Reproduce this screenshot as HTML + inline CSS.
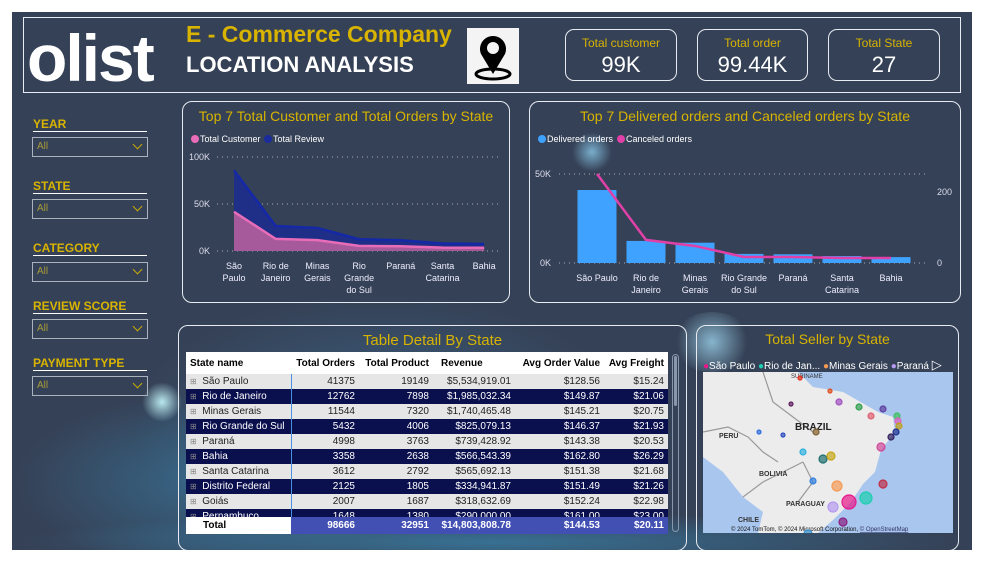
<!DOCTYPE html>
<html><head><meta charset="utf-8">
<style>
*{margin:0;padding:0;box-sizing:border-box}
body{width:984px;height:562px;background:#fff;font-family:"Liberation Sans",sans-serif;position:relative;overflow:hidden}
#dash{position:absolute;left:12px;top:12px;width:960px;height:538px;background:#354156;overflow:hidden}
.glow{position:absolute;border-radius:50%;pointer-events:none}
.abs{position:absolute}
.panel{position:absolute;border:1.5px solid #e8ecf2;border-radius:10px}
.gold{color:#d8b400}
.kpi{position:absolute;top:17px;height:52px;border:1.5px solid #e8ecf2;border-radius:9px;text-align:center}
.kpi .l{color:#d8b400;font-size:12px;margin-top:6px}
.kpi .v{color:#fff;font-size:22px;margin-top:2px}
.sl-l{position:absolute;left:21px;width:114px;color:#d8b400;font-weight:bold;font-size:12px;border-bottom:1.5px solid #fff;height:14px;line-height:12px}
.sl-b{position:absolute;left:20px;width:116px;height:20px;border:1.5px solid #aab2be;color:#a89a3a;font-size:10px;padding:3px 0 0 4px}
.sl-b:after{content:"";position:absolute;right:6px;top:3px;width:6px;height:6px;border-right:1.2px solid #c8a800;border-bottom:1.2px solid #c8a800;transform:rotate(45deg)}
table{border-collapse:collapse;font-size:10px;table-layout:fixed}
td,th{padding:0 4px;height:15px;white-space:nowrap;overflow:hidden}
</style></head><body>
<div id="dash">
<div class="glow" style="left:120px;top:280px;width:500px;height:260px;background:radial-gradient(ellipse,rgba(70,150,200,0.35),rgba(53,65,86,0) 70%)"></div>
<div class="glow" style="left:0px;top:380px;width:400px;height:180px;background:radial-gradient(ellipse,rgba(60,160,210,0.4),rgba(53,65,86,0) 70%)"></div>
<div class="glow" style="left:130px;top:370px;width:40px;height:40px;background:radial-gradient(circle,rgba(200,250,255,0.9),rgba(80,180,230,0) 70%)"></div>
<div class="glow" style="left:560px;top:120px;width:40px;height:40px;background:radial-gradient(circle,rgba(150,220,255,0.7),rgba(80,180,230,0) 70%)"></div>
<div class="glow" style="left:660px;top:300px;width:80px;height:60px;background:radial-gradient(circle,rgba(170,230,255,0.7),rgba(80,180,230,0) 70%)"></div>
<div class="glow" style="left:0px;top:500px;width:960px;height:60px;background:radial-gradient(ellipse,rgba(60,170,220,0.45),rgba(53,65,86,0) 70%)"></div>

<div class="abs" style="left:11px;top:5px;width:938px;height:76px;border:1.5px solid #e8ecf2"></div>
<div class="abs" style="left:15px;top:9px;color:#fff;font-weight:bold;font-size:66px;letter-spacing:-2px;line-height:74px">olist</div>
<div class="abs gold" style="left:174px;top:9px;font-weight:bold;font-size:23px">E - Commerce Company</div>
<div class="abs" style="left:174px;top:40px;color:#fff;font-weight:bold;font-size:22px">LOCATION ANALYSIS</div>
<div class="abs" style="left:455px;top:16px;width:52px;height:56px;background:#f4f4f4">
<svg width="52" height="56" viewBox="0 0 52 56"><ellipse cx="26" cy="46" rx="17" ry="5" fill="none" stroke="#000" stroke-width="3"/><path d="M26 46 L14 26 A13 13 0 1 1 38 26 Z" fill="#000"/><circle cx="26" cy="20" r="6" fill="#f4f4f4"/></svg></div>

<div class="kpi" style="left:553px;width:112px"><div class="l">Total customer</div><div class="v">99K</div></div>
<div class="kpi" style="left:685px;width:111px"><div class="l">Total order</div><div class="v">99.44K</div></div>
<div class="kpi" style="left:816px;width:112px"><div class="l">Total State</div><div class="v">27</div></div>

<div class="sl-l" style="top:106px">YEAR</div>
<div class="sl-b" style="top:125px">All</div>
<div class="sl-l" style="top:168px">STATE</div>
<div class="sl-b" style="top:187px">All</div>
<div class="sl-l" style="top:230px">CATEGORY</div>
<div class="sl-b" style="top:250px">All</div>
<div class="sl-l" style="top:288px">REVIEW SCORE</div>
<div class="sl-b" style="top:307px">All</div>
<div class="sl-l" style="top:345px">PAYMENT TYPE</div>
<div class="sl-b" style="top:364px">All</div>

<div class="panel" style="left:170px;top:89px;width:328px;height:202px"></div>
<svg class="abs" id="c1" style="left:170px;top:89px" width="328" height="202"></svg>
<div class="panel" style="left:517px;top:89px;width:432px;height:202px"></div>
<svg class="abs" id="c2" style="left:517px;top:89px" width="432" height="202"></svg>

<div class="panel" style="left:166px;top:313px;width:509px;height:226px"></div>
<div class="abs gold" style="left:166px;top:320px;width:509px;text-align:center;font-size:15px">Table Detail By State</div>
<div class="abs" style="left:174px;top:340px;width:482px;height:182px;background:#0a0f4e;overflow:hidden">
<table style="width:482px">
<colgroup><col style="width:105px"><col style="width:68px"><col style="width:74px"><col style="width:82px"><col style="width:89px"><col style="width:64px"></colgroup>
<tr style="background:#fff;color:#000;height:22px"><th style="text-align:left;height:22px">State name</th><th style="text-align:right">Total Orders</th><th style="text-align:right">Total Product</th><th style="text-align:left;padding-left:8px">Revenue</th><th style="text-align:right">Avg Order Value</th><th style="text-align:right">Avg Freight</th></tr>
<tbody id="tb"></tbody>
</table>
<div class="abs" style="left:0;top:165px;width:482px;height:17px;background:#4250b4;color:#fff;font-size:10px;font-weight:bold">
<div class="abs" style="left:0;top:0;width:105px;height:17px;background:#fff;color:#000;padding:3px 0 0 17px">Total</div>
<div class="abs" style="right:313px;top:3px">98666</div><div class="abs" style="right:239px;top:3px">32951</div><div class="abs" style="right:157px;top:3px">$14,803,808.78</div><div class="abs" style="right:68px;top:3px">$144.53</div><div class="abs" style="right:4px;top:3px">$20.11</div></div>
</div>
<div class="abs" style="left:660px;top:342px;width:7px;height:178px;border:1px solid #8898aa;border-radius:4px"><div style="margin:1px;height:50px;background:#8898aa;border-radius:3px"></div></div>

<div class="panel" style="left:684px;top:313px;width:263px;height:226px"></div>
<div class="abs gold" style="left:684px;top:319px;width:263px;text-align:center;font-size:14px">Total Seller by State</div>
<div class="abs" style="left:691px;top:345px;font-size:10px;color:#fff;white-space:nowrap">
<span style="color:#e8188a">●</span>São Paulo <span style="color:#1ccfb0">●</span>Rio de Jan... <span style="color:#f59a55">●</span>Minas Gerais <span style="color:#b59af0">●</span>Paraná <span style="font-size:13px">&#9655;</span></div>
<svg class="abs" id="map" style="left:691px;top:360px" width="250" height="161">
<rect width="250" height="161" fill="#a9c6ee"/>
<path d="M0 0 H95 L110 15 L140 20 L175 40 L190 45 L192 60 L178 78 L172 100 L160 112 L148 130 L130 148 L115 161 H55 L60 140 L40 125 L20 100 L0 85 Z" fill="#ececec"/>
<path d="M0 60 L25 55 L45 65 L60 80 L75 90 M60 0 L70 30 L90 45 L110 60 M100 90 L110 110 L95 130 M40 125 L60 110 L100 90" fill="none" stroke="#999" stroke-width="1.2"/>
<text x="92" y="58" font-size="10" font-weight="bold" fill="#222">BRAZIL</text>
<text x="16" y="66" font-size="7" font-weight="bold" fill="#333">PERU</text>
<text x="56" y="104" font-size="7" font-weight="bold" fill="#333">BOLIVIA</text>
<text x="83" y="134" font-size="7" font-weight="bold" fill="#333">PARAGUAY</text>
<text x="35" y="150" font-size="7" font-weight="bold" fill="#333">CHILE</text>
<text x="88" y="6" font-size="6" fill="#333">SURINAME</text>
<text x="28" y="159" font-size="6" fill="#111">© 2024 TomTom, © 2024 Microsoft Corporation, <tspan fill="#336" text-decoration="underline">© OpenStreetMap</tspan></text>
<g id="dots"></g>
</svg>
</div>
<script>
const states=["São Paulo","Rio de Janeiro","Minas Gerais","Rio Grande do Sul","Paraná","Santa Catarina","Bahia"];
const xLabels=[["São","Paulo"],["Rio de","Janeiro"],["Minas","Gerais"],["Rio","Grande","do Sul"],["Paraná"],["Santa","Catarina"],["Bahia"]];
const totalCustomer=[41.7,12.9,11.6,5.5,5.0,3.6,3.4];
const totalReview=[44,13.7,12.9,7,6.5,4.4,4.1];
const y1Ticks=[0,50,100];
const delivered=[41,12.4,11.4,5.1,4.9,3.9,3.3];
const canceled=[251,65,48,17,17,14,14];
const y2Ticks=[0,50];
const y2rTicks=[0,200];
const NS="http://www.w3.org/2000/svg";
function mk(p,t,a,txt){const e=document.createElementNS(NS,t);for(const k in a)e.setAttribute(k,a[k]);if(txt!=null)e.textContent=txt;p.appendChild(e);return e;}
// chart1
const c1=document.getElementById('c1');
let t1=mk(c1,'text',{x:164,y:20,'text-anchor':'middle','font-size':14,fill:'#d8b400'},'Top 7 Total Customer and Total Orders by State');


mk(c1,'circle',{cx:13,cy:38,r:4,fill:'#e86cb8'});mk(c1,'text',{x:18,y:41,'font-size':9,fill:'#fff'},'Total Customer');
mk(c1,'circle',{cx:86,cy:38,r:4,fill:'#1a2c9c'});mk(c1,'text',{x:91,y:41,'font-size':9,fill:'#fff'},'Total Review');
const x1=i=>52+i*41.7, y1=v=>150-v*0.94;
y1Ticks.forEach(v=>{mk(c1,'line',{x1:35,x2:320,y1:y1(v),y2:y1(v),stroke:'#aab','stroke-dasharray':'1 4'});
 mk(c1,'text',{x:28,y:y1(v)+3,'text-anchor':'end','font-size':9,fill:'#dde'},v+'K');});
const stackTop=totalCustomer.map((v,i)=>v+totalReview[i]);
let pb='M'+x1(0)+' '+y1(0)+states.map((s,i)=>' L'+x1(i)+' '+y1(stackTop[i])).join('')+' L'+x1(6)+' '+y1(0)+'Z';
let ea=mk(c1,'path',{d:pb,fill:'#1f2e8a',opacity:0.95});


mk(c1,'polyline',{points:states.map((s,i)=>x1(i)+','+y1(stackTop[i])).join(' '),fill:'none',stroke:'#1428a8','stroke-width':2.5});
let pc='M'+x1(0)+' '+y1(0)+states.map((s,i)=>' L'+x1(i)+' '+y1(totalCustomer[i])).join('')+' L'+x1(6)+' '+y1(0)+'Z';
let eb=mk(c1,'path',{d:pc,fill:'#a65a9c'});


mk(c1,'polyline',{points:states.map((s,i)=>x1(i)+','+y1(totalCustomer[i])).join(' '),fill:'none',stroke:'#e86cb8','stroke-width':2.5});
xLabels.forEach((l,i)=>l.forEach((w,j)=>mk(c1,'text',{x:x1(i),y:168+j*12,'text-anchor':'middle','font-size':9,fill:'#eef'},w)));
// chart2
const c2=document.getElementById('c2');
let t2=mk(c2,'text',{x:216,y:20,'text-anchor':'middle','font-size':14,fill:'#d8b400'},'Top 7 Delivered orders and Canceled orders by State');


mk(c2,'circle',{cx:13,cy:38,r:4,fill:'#3fa2ff'});mk(c2,'text',{x:18,y:41,'font-size':9,fill:'#fff'},'Delivered orders');
mk(c2,'circle',{cx:92,cy:38,r:4,fill:'#e040a8'});mk(c2,'text',{x:97,y:41,'font-size':9,fill:'#fff'},'Canceled orders');
const x2=i=>68+i*49, y2=v=>162-v*1.78, y2r=v=>162-v*0.355;
y2Ticks.forEach(v=>{mk(c2,'line',{x1:30,x2:400,y1:y2(v),y2:y2(v),stroke:'#aab','stroke-dasharray':'1 4'});
 mk(c2,'text',{x:22,y:y2(v)+3,'text-anchor':'end','font-size':9,fill:'#dde'},v+'K');});
y2rTicks.forEach(v=>mk(c2,'text',{x:408,y:y2r(v)+3,'font-size':9,fill:'#dde'},v));
delivered.forEach((v,i)=>{const r=mk(c2,'rect',{x:x2(i)-19.5,y:y2(v),width:39,height:y2(0)-y2(v),fill:'#3fa2ff'});
 
 });
let ec=mk(c2,'polyline',{points:canceled.map((v,i)=>x2(i)+','+y2r(v)).join(' '),fill:'none',stroke:'#e040a8','stroke-width':2.5});


const xl2=[["São Paulo"],["Rio de","Janeiro"],["Minas","Gerais"],["Rio Grande","do Sul"],["Paraná"],["Santa","Catarina"],["Bahia"]];
xl2.forEach((l,i)=>l.forEach((w,j)=>mk(c2,'text',{x:x2(i),y:180+j*12,'text-anchor':'middle','font-size':9,fill:'#eef'},w)));
// table
const rowNames=["São Paulo","Rio de Janeiro","Minas Gerais","Rio Grande do Sul","Paraná","Bahia","Santa Catarina","Distrito Federal","Goiás","Pernambuco"];
const rowOrders=[41375,12762,11544,5432,4998,3358,3612,2125,2007,1648];
const rowProducts=[19149,7898,7320,4006,3763,2638,2792,1805,1687,1380];
const rowRevenue=["$5,534,919.01","$1,985,032.34","$1,740,465.48","$825,079.13","$739,428.92","$566,543.39","$565,692.13","$334,941.87","$318,632.69","$290,000.00"];
const rowAov=["$128.56","$149.87","$145.21","$146.37","$143.38","$162.80","$151.38","$151.49","$152.24","$161.00"];
const rowFreight=["$15.24","$21.06","$20.75","$21.93","$20.53","$26.29","$21.68","$21.26","$22.98","$23.00"];
const tb=document.getElementById('tb');
rowNames.forEach((n,i)=>{const tr=document.createElement('tr');
 
 
 const light=i%2==0;tr.style.background=light?'#e6e6e6':'#0a0f4e';tr.style.color=light?'#222':'#fff';
 tr.innerHTML='<td style="border-right:1px solid #4a90e0"><span style="font-size:8px;color:#888">⊞</span>&nbsp; '+n+'</td><td style="text-align:right">'+rowOrders[i]+'</td><td style="text-align:right">'+rowProducts[i]+'</td><td style="text-align:right">'+rowRevenue[i]+'</td><td style="text-align:right">'+rowAov[i]+'</td><td style="text-align:right">'+rowFreight[i]+'</td>';
 tb.appendChild(tr);});
// map dots
const dots=[[146,118,7,'#e8188a'],[163,114,6,'#1ccfb0'],[134,102,5,'#f59a55'],[130,123,5,'#b59af0'],[180,100,4,'#c0304a'],[140,138,4,'#8a2080'],[120,75,4,'#207070'],[128,72,4,'#c8a818'],[178,63,4,'#d04a9a'],[113,48,3,'#806030'],[110,97,3,'#3080e0'],[100,68,3,'#30b0e0'],[136,18,3,'#a050c0'],[156,23,3,'#30a050'],[168,32,3,'#e06070'],[180,25,3,'#6040a0'],[194,32,3,'#40c060'],[195,37,3,'#e060c0'],[196,42,3,'#c0a020'],[193,48,3,'#203090'],[188,53,3,'#302060'],[80,51,2,'#3050c0'],[56,48,2,'#3070e0'],[88,20,2,'#602060'],[127,7,2,'#e05020'],[97,-6,2,'#e03020'],[105,150,4,'#3090d0']];
const g=document.getElementById('dots');
dots.forEach(d=>{const c=mk(g,'circle',{cx:d[0],cy:d[1]+12,r:d[2],fill:d[3],'fill-opacity':0.7,stroke:d[3],'stroke-width':1.2});
 
 });
</script>
</body></html>
